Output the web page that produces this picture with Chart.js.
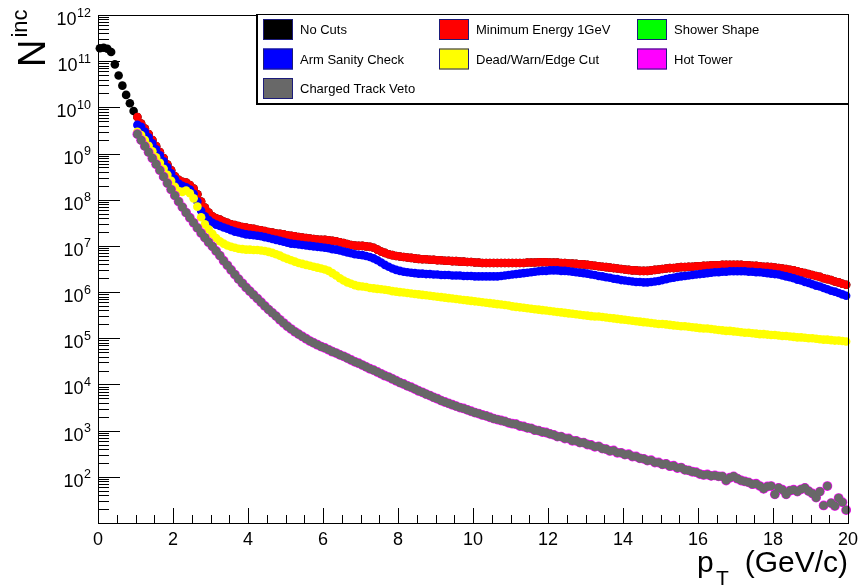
<!DOCTYPE html>
<html><head><meta charset="utf-8">
<script src="https://cdn.jsdelivr.net/npm/chart.js@4.4.0/dist/chart.umd.min.js"></script>
<style>html,body{margin:0;padding:0;background:#fff;}canvas{display:block;}</style>
</head><body>
<canvas id="c" width="859" height="585"></canvas>
<script>
// ---------- data (histogram bins of 0.1 GeV, values stored as log10 of counts) ----------
const binWidth = 0.1;
const xMajorTicks = [0, 2, 4, 6, 8, 10, 12, 14, 16, 18, 20];
const yDecadeExponents = [2, 3, 4, 5, 6, 7, 8, 9, 10, 11, 12];
const legendLabels = ['No Cuts','Minimum Energy 1GeV','Shower Shape','Arm Sanity Check','Dead/Warn/Edge Cut','Hot Tower','Charged Track Veto'];

// No Cuts, bins 0.05 .. 0.95 (above 1 GeV it coincides with "Minimum Energy 1GeV")
const noCutsBelow1 = [11.28,11.29,11.27,11.20,10.93,10.69,10.47,10.27,10.09,9.92];

// bins 1.05 .. 19.95 (one row per GeV)
const minEnergyLog = [
9.79,9.65,9.54,9.42,9.29,9.16,9.03,8.90,8.76,8.64,
8.51,8.43,8.39,8.37,8.32,8.24,8.12,7.96,7.83,7.72,
7.64,7.60,7.57,7.53,7.50,7.47,7.45,7.43,7.41,7.40,
7.38,7.37,7.35,7.34,7.32,7.30,7.29,7.27,7.26,7.25,
7.23,7.22,7.21,7.19,7.18,7.17,7.16,7.15,7.14,7.13,
7.13,7.12,7.11,7.10,7.08,7.06,7.04,7.02,7.01,7.00,
7.00,6.99,6.98,6.96,6.92,6.88,6.85,6.82,6.80,6.78,
6.77,6.76,6.75,6.74,6.73,6.72,6.71,6.71,6.70,6.70,
6.69,6.69,6.68,6.68,6.67,6.67,6.66,6.66,6.65,6.65,
6.64,6.64,6.63,6.63,6.63,6.63,6.63,6.63,6.63,6.63,
6.63,6.63,6.63,6.63,6.64,6.64,6.64,6.645,6.645,6.645,
6.64,6.64,6.64,6.63,6.63,6.62,6.62,6.61,6.60,6.60,
6.59,6.58,6.57,6.56,6.55,6.54,6.53,6.52,6.51,6.50,
6.49,6.48,6.47,6.47,6.46,6.46,6.46,6.47,6.48,6.49,
6.50,6.51,6.52,6.52,6.53,6.54,6.54,6.55,6.55,6.56,
6.56,6.57,6.57,6.58,6.58,6.58,6.59,6.59,6.59,6.59,
6.59,6.59,6.58,6.58,6.57,6.57,6.56,6.55,6.55,6.54,
6.53,6.52,6.51,6.50,6.48,6.47,6.45,6.43,6.41,6.39,
6.37,6.35,6.33,6.30,6.28,6.26,6.23,6.21,6.18,6.16];

const armSanityLog = [
9.62,9.58,9.47,9.35,9.22,9.09,8.96,8.83,8.70,8.57,
8.45,8.35,8.30,8.27,8.22,8.13,7.96,7.76,7.64,7.56,
7.50,7.46,7.43,7.40,7.37,7.34,7.31,7.29,7.27,7.25,
7.24,7.23,7.22,7.21,7.19,7.17,7.15,7.13,7.11,7.09,
7.07,7.05,7.04,7.03,7.02,7.01,7.00,6.99,6.98,6.97,
6.96,6.95,6.93,6.92,6.90,6.88,6.86,6.84,6.82,6.81,
6.80,6.78,6.76,6.73,6.69,6.64,6.59,6.55,6.51,6.48,
6.46,6.44,6.43,6.42,6.41,6.40,6.40,6.39,6.39,6.38,
6.38,6.37,6.37,6.37,6.36,6.36,6.36,6.35,6.35,6.35,
6.34,6.34,6.34,6.34,6.34,6.34,6.34,6.35,6.36,6.37,
6.38,6.39,6.40,6.41,6.42,6.43,6.44,6.45,6.46,6.46,
6.47,6.47,6.47,6.46,6.46,6.45,6.44,6.43,6.42,6.41,
6.40,6.38,6.37,6.35,6.34,6.32,6.31,6.29,6.28,6.26,
6.25,6.24,6.23,6.22,6.22,6.21,6.21,6.22,6.23,6.24,
6.26,6.28,6.30,6.31,6.33,6.34,6.35,6.36,6.37,6.38,
6.39,6.40,6.41,6.42,6.43,6.43,6.44,6.44,6.45,6.45,
6.45,6.45,6.45,6.44,6.44,6.43,6.43,6.42,6.41,6.40,
6.39,6.38,6.36,6.34,6.32,6.30,6.27,6.25,6.22,6.20,
6.17,6.14,6.12,6.09,6.06,6.03,6.01,5.98,5.95,5.92];

const deadWarnLog = [
9.47,9.40,9.29,9.17,9.05,8.92,8.80,8.67,8.54,8.41,
8.28,8.19,8.17,8.20,8.14,8.03,7.85,7.62,7.47,7.36,
7.26,7.17,7.10,7.05,7.01,6.98,6.96,6.94,6.93,6.92,
6.92,6.91,6.91,6.90,6.89,6.87,6.85,6.82,6.79,6.75,
6.72,6.69,6.66,6.63,6.61,6.59,6.57,6.55,6.53,6.51,
6.49,6.46,6.41,6.36,6.30,6.25,6.21,6.18,6.15,6.13,
6.12,6.11,6.09,6.08,6.07,6.06,6.05,6.04,6.02,6.01,
6.00,5.99,5.98,5.97,5.96,5.95,5.94,5.93,5.92,5.91,
5.90,5.89,5.88,5.87,5.86,5.85,5.84,5.83,5.82,5.81,
5.80,5.79,5.78,5.77,5.76,5.75,5.74,5.73,5.72,5.71,
5.69,5.68,5.67,5.66,5.65,5.64,5.63,5.62,5.61,5.60,
5.59,5.58,5.57,5.56,5.55,5.54,5.53,5.52,5.51,5.50,
5.49,5.48,5.47,5.47,5.46,5.45,5.44,5.43,5.42,5.41,
5.40,5.39,5.38,5.37,5.36,5.35,5.34,5.33,5.32,5.31,
5.31,5.30,5.29,5.28,5.27,5.26,5.26,5.25,5.24,5.23,
5.22,5.21,5.21,5.20,5.19,5.18,5.17,5.16,5.16,5.15,
5.14,5.13,5.12,5.12,5.11,5.10,5.09,5.09,5.08,5.07,
5.07,5.06,5.05,5.05,5.04,5.03,5.02,5.02,5.01,5.00,
5.00,4.99,4.98,4.97,4.97,4.96,4.95,4.95,4.94,4.93];

// Charged Track Veto; Shower Shape and Hot Tower are indistinguishable from it in the picture
const chargedVetoLog = [
9.42,9.29,9.16,9.03,8.90,8.77,8.64,8.50,8.36,8.22,
8.09,7.96,7.84,7.72,7.61,7.50,7.39,7.28,7.18,7.08,
6.99,6.89,6.79,6.68,6.58,6.48,6.38,6.28,6.19,6.10,
6.02,5.94,5.86,5.78,5.70,5.62,5.55,5.48,5.40,5.33,
5.26,5.20,5.14,5.09,5.04,4.99,4.94,4.90,4.86,4.82,
4.79,4.75,4.71,4.68,4.64,4.61,4.57,4.53,4.49,4.46,
4.42,4.38,4.34,4.31,4.27,4.23,4.19,4.16,4.12,4.08,
4.04,4.01,3.97,3.94,3.90,3.86,3.83,3.79,3.76,3.72,
3.69,3.65,3.62,3.59,3.56,3.53,3.50,3.48,3.45,3.42,
3.39,3.37,3.34,3.32,3.29,3.26,3.24,3.22,3.20,3.17,
3.15,3.14,3.10,3.09,3.06,3.05,3.01,3.00,2.97,2.96,
2.93,2.91,2.87,2.87,2.83,2.83,2.78,2.78,2.74,2.74,
2.70,2.69,2.65,2.66,2.61,2.60,2.56,2.57,2.52,2.52,
2.48,2.49,2.44,2.44,2.40,2.39,2.35,2.36,2.31,2.31,
2.27,2.28,2.23,2.24,2.19,2.20,2.15,2.14,2.11,2.10,
2.06,2.04,2.05,2.02,2.03,2.01,2.01,1.92,1.98,2.01,
1.96,1.92,1.90,1.88,1.84,1.85,1.80,1.74,1.79,1.80,
1.62,1.76,1.72,1.62,1.70,1.72,1.68,1.73,1.76,1.69,
1.64,1.55,1.68,1.38,1.80,1.43,1.37,1.54,1.45,1.28];
const showerShapeLog = chargedVetoLog;
const hotTowerLog = chargedVetoLog;

// ---------- build points ----------
function toPoints(logs, firstBin) {
  return logs.map((v, i) => ({ x: (firstBin + i + 0.5) * binWidth, y: Math.pow(10, v) }));
}
const noCutsLog = noCutsBelow1.concat(minEnergyLog);

const FONT = '"Liberation Sans", Arial, Helvetica, sans-serif';
const COLORS = { black:'#000000', red:'#ff0000', green:'#00ff00', blue:'#0000ff', yellow:'#ffff00', magenta:'#ff00ff', gray:'#686868' };
const R = 4.3;
function ds(label, logs, firstBin, color, order, radius) {
  return { label, data: toPoints(logs, firstBin), backgroundColor: color, borderWidth: 0,
    pointRadius: radius || R, pointHoverRadius: radius || R, showLine: false, order, clip: false };
}
const datasets = [
  ds('Charged Track Veto', chargedVetoLog, 10, COLORS.gray, 0),
  ds('Hot Tower', hotTowerLog, 10, COLORS.magenta, 1, R + 0.6),
  ds('Shower Shape', showerShapeLog, 10, COLORS.green, 2),
  ds('Dead/Warn/Edge Cut', deadWarnLog, 10, COLORS.yellow, 3),
  ds('Arm Sanity Check', armSanityLog, 10, COLORS.blue, 4),
  ds('Minimum Energy 1GeV', minEnergyLog, 10, COLORS.red, 5),
  ds('No Cuts', noCutsLog, 0, COLORS.black, 6)
];

const legendColors = [COLORS.black, COLORS.red, COLORS.green, COLORS.blue, COLORS.yellow, COLORS.magenta, COLORS.gray];

const rootStyle = {
  id: 'rootStyle',
  afterDatasetsDraw(chart) {
    const ctx = chart.ctx, xs = chart.scales.x, ys = chart.scales.y, a = chart.chartArea;
    ctx.save();
    ctx.strokeStyle = '#000'; ctx.lineWidth = 1;
    ctx.strokeRect(a.left + 0.5, a.top + 0.5, a.right - a.left, a.bottom - a.top);
    ctx.beginPath();
    // x ticks (major every 2, minor every 0.5), inward
    for (let i = 0; i < xMajorTicks.length; i++) {
      for (let k = 0; k < 4; k++) {
        const v = xMajorTicks[i] + k * 0.5;
        if (v > xs.max) break;
        const px = Math.round(xs.getPixelForValue(v)) + 0.5;
        const len = k === 0 ? 15 : 8;
        ctx.moveTo(px, a.bottom); ctx.lineTo(px, a.bottom - len);
      }
    }
    // y ticks (decades + 2..9 minors), inward
    for (let e = 1; e <= 12; e++) {
      for (let m = 1; m <= 9; m++) {
        if (e === 12 && m > 1) break;
        const py = Math.round(ys.getPixelForValue(m * Math.pow(10, e))) + 0.5;
        const len = m === 1 ? 22 : 11;
        ctx.moveTo(a.left, py); ctx.lineTo(a.left + len, py);
      }
    }
    ctx.stroke();

    ctx.fillStyle = '#000';
    // x tick labels
    ctx.font = '18px ' + FONT; ctx.textAlign = 'center'; ctx.textBaseline = 'alphabetic';
    xMajorTicks.forEach(v => ctx.fillText(String(v), xs.getPixelForValue(v), a.bottom + 22));
    // y tick labels 10^n
    yDecadeExponents.forEach(e => {
      const py = ys.getPixelForValue(Math.pow(10, e));
      const right = 91;
      ctx.textAlign = 'right';
      ctx.font = '12.5px ' + FONT;
      const ew = ctx.measureText(String(e)).width;
      ctx.fillText(String(e), right, py + 1.5);
      ctx.font = '18px ' + FONT;
      ctx.fillText('10', right - ew - 0.5, py + 10);
    });
    // x axis title
    ctx.textAlign = 'right'; ctx.font = '30px ' + FONT;
    ctx.fillText('(GeV/c)', 848, 572);
    ctx.textAlign = 'left';
    ctx.fillText('p', 697, 572);
    ctx.font = '21px ' + FONT;
    ctx.fillText('T', 716, 585);
    // y axis title
    ctx.save();
    ctx.translate(45, 67); ctx.rotate(-Math.PI / 2);
    ctx.textAlign = 'left';
    ctx.font = '38px ' + FONT;
    ctx.fillText('N', 0, 0);
    const nw = ctx.measureText('N').width;
    ctx.font = '22px ' + FONT;
    ctx.fillText('inc', nw + 2, -18);
    ctx.restore();

    // legend
    const L = 256, T = 14, Rr = 848, B = 104;
    ctx.fillStyle = '#fff';
    ctx.fillRect(L, T, Rr - L, B - T);
    ctx.strokeStyle = '#000'; ctx.lineWidth = 1;
    ctx.strokeRect(L + 0.5, T + 0.5, Rr - L, B - T);
    ctx.fillStyle = '#000';
    ctx.fillRect(L, T, 2, B - T + 1);
    ctx.fillRect(L, B - 1, Rr - L + 1, 2);
    const colX = [263, 439, 637], rowY = [19, 48.5, 78];
    ctx.font = '13px ' + FONT; ctx.textBaseline = 'middle'; ctx.textAlign = 'left';
    legendLabels.forEach((lab, i) => {
      const c = i % 3, r = Math.floor(i / 3);
      const x = colX[c], y = rowY[r];
      ctx.fillStyle = legendColors[i];
      ctx.fillRect(x, y, 30, 21);
      ctx.strokeStyle = '#1c1c7a';
      ctx.strokeRect(x + 0.5, y + 0.5, 29, 20);
      ctx.fillStyle = '#000';
      ctx.fillText(lab, x + 37, y + 11.5);
    });
    ctx.restore();
  }
};

new Chart(document.getElementById('c'), {
  type: 'scatter',
  data: { datasets },
  options: {
    responsive: false, animation: false, events: [],
    layout: { padding: { left: 98, top: 15, right: 11, bottom: 62 } },
    scales: {
      x: { type: 'linear', min: 0, max: 20, display: false },
      y: { type: 'logarithmic', min: 10, max: 1e12, display: false }
    },
    plugins: { legend: { display: false }, tooltip: { enabled: false } }
  },
  plugins: [rootStyle]
});
</script>
</body></html>
